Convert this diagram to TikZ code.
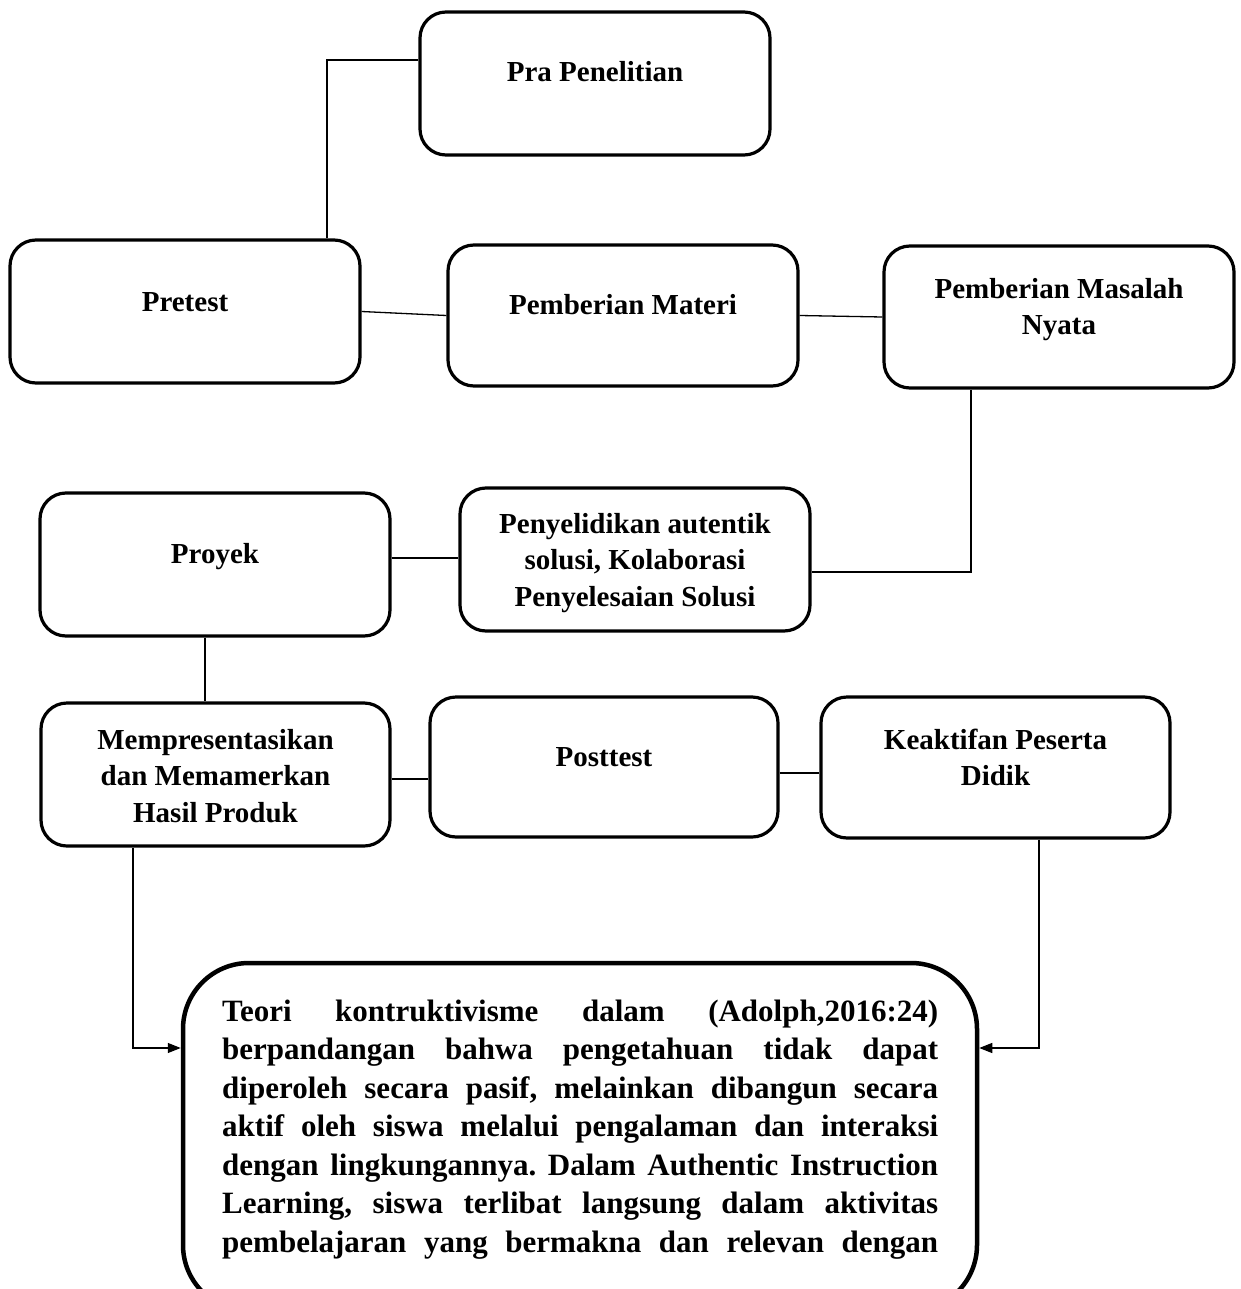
\documentclass[tikz,border=0pt]{standalone}
\usepackage{fontspec}
\setmainfont{Liberation Serif}
\usetikzlibrary{arrows.meta}
\frenchspacing
\newcommand\clines[1]{\vtop{\halign{\hfil##\hfil\cr#1\crcr}}}
\newcommand\jline[1]{\hbox to 716pt{#1}}
\begin{document}
\begin{tikzpicture}[x=1pt,y=-1pt,
  box/.style={draw, line width=3.2pt, rounded corners=26pt, inner sep=0pt},
  bigbox/.style={draw, line width=4.5pt, rounded corners=66pt, inner sep=0pt},
  lbl/.style={anchor=base, inner sep=0pt, font=\bfseries\fontsize{29}{36.5}\selectfont},
  body/.style={anchor=base west, inner sep=0pt, font=\bfseries\fontsize{31}{38.5}\selectfont},
  link/.style={line width=1.3pt},
  arr/.style={link, -{Triangle[length=13pt,width=10pt]}}]
\useasboundingbox (0,0) rectangle (1240,1289);
\clip (0,0) rectangle (1240,1289);

% boxes
\node[box, minimum width=350pt, minimum height=143pt] (pra)     at (595,83.5) {};
\node[box, minimum width=350pt, minimum height=143pt] (pretest) at (185,311.5) {};
\node[box, minimum width=350pt, minimum height=141pt] (materi)  at (623,315.5) {};
\node[box, minimum width=350pt, minimum height=142pt] (masalah) at (1059,317) {};
\node[box, minimum width=350pt, minimum height=143pt] (proyek)  at (215,564.5) {};
\node[box, minimum width=350pt, minimum height=143pt] (peny)    at (635,559.5) {};
\node[box, minimum width=349pt, minimum height=143pt] (mem)     at (215.5,774.5) {};
\node[box, minimum width=348pt, minimum height=140pt] (post)    at (604,767) {};
\node[box, minimum width=349pt, minimum height=141pt] (keak)    at (995.5,767.5) {};
\node[bigbox, minimum width=794pt, minimum height=348pt] (teori) at (580,1137) {};

% labels
\node[lbl] (tpra)     at (595,82)    {Pra Penelitian};
\node[lbl] (tpretest) at (185,311)   {Pretest};
\node[lbl] (tmateri)  at (623,314)   {Pemberian Materi};
\node[lbl] (tmasalah) at (1059,298)  {\clines{Pemberian Masalah\cr Nyata}};
\node[lbl] (tproyek)  at (215,563)   {Proyek};
\node[lbl] (tpeny)    at (635,533)   {\clines{Penyelidikan autentik\cr solusi, Kolaborasi\cr Penyelesaian Solusi}};
\node[lbl] (tmem)     at (215.5,749) {\clines{Mempresentasikan\cr dan Memamerkan\cr Hasil Produk}};
\node[lbl] (tpost)    at (604,766)   {Posttest};
\node[lbl] (tkeak)    at (995.5,749) {\clines{Keaktifan Peserta\cr Didik}};
\node[body] (tteori)  at (222,1021)  {\vtop{%
  \jline{Teori kontruktivisme dalam (Adolph,2016:24)}
  \jline{berpandangan bahwa pengetahuan tidak dapat}
  \jline{diperoleh secara pasif, melainkan dibangun secara}
  \jline{aktif oleh siswa melalui pengalaman dan interaksi}
  \jline{dengan lingkungannya. Dalam Authentic Instruction}
  \jline{Learning, siswa terlibat langsung dalam aktivitas}
  \jline{pembelajaran yang bermakna dan relevan dengan}}};

% connectors
\coordinate (k1) at (327,60);
\draw[link] (pretest.north -| k1) |- (pra.west |- k1);
\draw[link] (pretest.east) -- (materi.west);
\draw[link] (materi.east) -- (masalah.west);
\coordinate (k2) at (971,572);
\draw[link] (masalah.south -| k2) |- (peny.east |- k2);
\coordinate (k3) at (0,558);
\draw[link] (proyek.east |- k3) -- (peny.west |- k3);
\coordinate (k4) at (205,0);
\draw[link] (proyek.south -| k4) -- (mem.north -| k4);
\coordinate (k5) at (0,779);
\draw[link] (mem.east |- k5) -- (post.west |- k5);
\coordinate (k6) at (0,773);
\draw[link] (post.east |- k6) -- (keak.west |- k6);
\coordinate (k7) at (133,1048);
\draw[arr] (mem.south -| k7) |- (teori.west |- k7);
\coordinate (k8) at (1039,1048);
\draw[arr] (keak.south -| k8) |- (teori.east |- k8);
\end{tikzpicture}
\end{document}
